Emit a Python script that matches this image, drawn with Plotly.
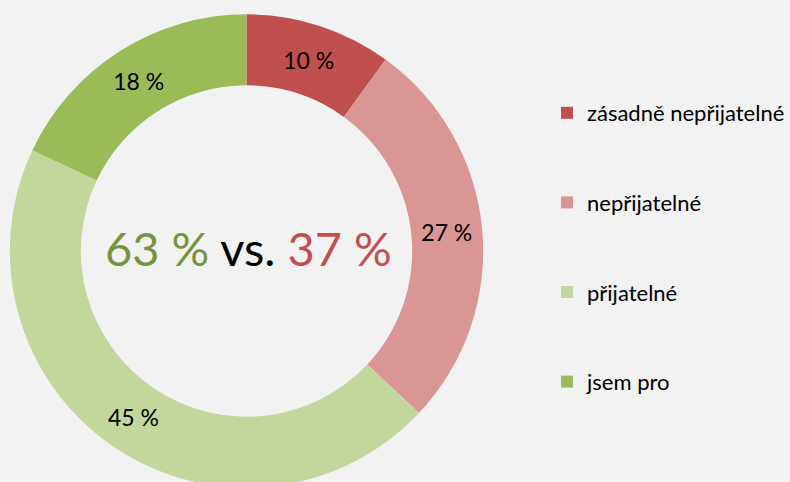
import plotly.graph_objects as go

labels = ["zásadně nepřijatelné", "nepřijatelné", "přijatelné", "jsem pro"]
values = [10, 27, 45, 18]
text_labels = ["10 %", "27 %", "45 %", "18 %"]
colors = ["#c0504d", "#d99694", "#c3d69b", "#9bbb59"]
center_parts = ["63 %", "vs.", "37 %"]
center_colors = ["#77933c", "#000000", "#c0504d"]

W, H = 790, 500
FONT = "Lato"

fig = go.Figure()
fig.add_trace(go.Pie(
    labels=labels, values=values, text=text_labels,
    textinfo="text", textposition="inside", insidetextorientation="horizontal",
    textfont=dict(family=FONT, size=23, color="#000000"),
    marker=dict(colors=colors, line=dict(width=0)),
    hole=0.70, sort=False, direction="clockwise", rotation=0,
    domain=dict(x=[10 / W, 490 / W], y=[1 - 491 / H, 1 - 11 / H]),
    showlegend=False, hoverinfo="label+percent",
))

for lab, col in zip(labels, colors):
    fig.add_trace(go.Scatter(
        x=[None], y=[None], mode="markers", name=lab, legendgroup=lab,
        marker=dict(symbol="square", size=12, color=col), showlegend=True,
    ))

center_text = " ".join(
    f'<span style="color:{c}">{t}</span>' for t, c in zip(center_parts, center_colors)
)
fig.add_annotation(
    text=center_text, xref="paper", yref="paper",
    x=252 / W, y=1 - 248 / H, xanchor="center", yanchor="middle",
    showarrow=False, font=dict(family=FONT, size=47, color="#000000"),
)

fig.update_layout(
    width=W, height=H,
    margin=dict(l=0, r=0, t=0, b=0),
    paper_bgcolor="#f2f2f2", plot_bgcolor="#f2f2f2",
    xaxis=dict(visible=False), yaxis=dict(visible=False),
    legend=dict(
        x=555 / W, y=1 - 92 / H, xanchor="left", yanchor="top",
        font=dict(family=FONT, size=22, color="#000000"),
        tracegroupgap=58, itemclick=False, itemdoubleclick=False,
        bgcolor="rgba(0,0,0,0)",
    ),
    font=dict(family=FONT),
)

fig.write_html(
    "out.html",
    config={"displayModeBar": False},
    post_script="document.body.style.margin='0';document.body.style.overflow='hidden';",
)
